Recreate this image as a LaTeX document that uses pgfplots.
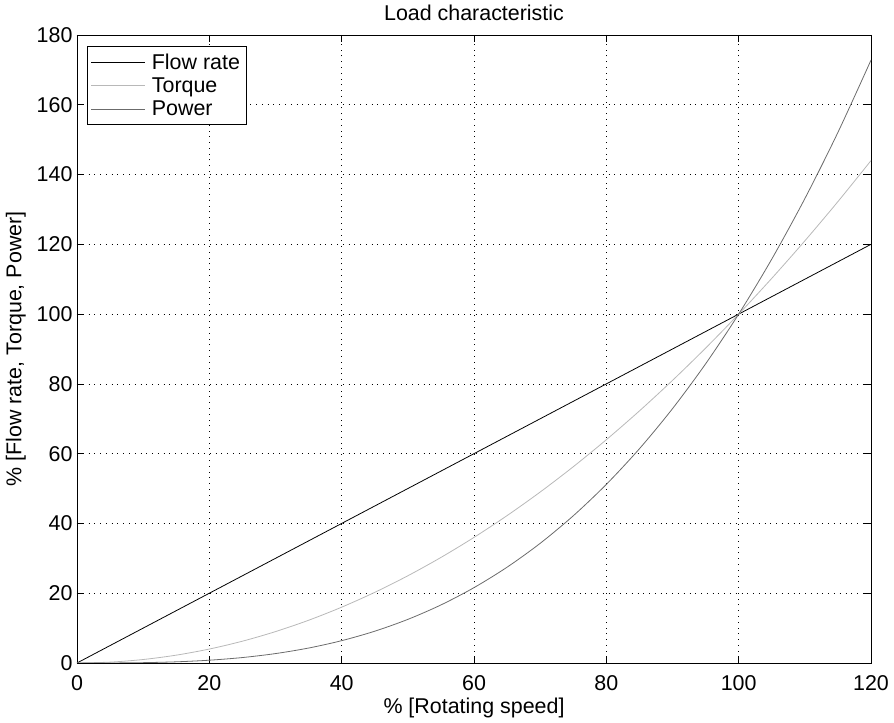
\documentclass[border=0pt]{standalone}
\usepackage{fontspec}
\setmainfont{Liberation Sans}
\usepackage{pgfplots}
\pgfplotsset{compat=1.18}
\begin{document}
\begin{tikzpicture}
\useasboundingbox (-77bp,-60bp) rectangle (817bp,663bp);
\begin{axis}[
  at={(0,0)}, anchor=south west,
  scale only axis, width=794bp, height=628bp,
  xmin=0, xmax=120, ymin=0, ymax=180,
  xtick={0,20,...,120}, ytick={0,20,...,180},
  /pgf/number format/assume math mode=true,
  tick label style={font=\fontsize{21.5}{24}\selectfont},
  xticklabel style={anchor=base, yshift=-27bp},
  yticklabel style={xshift=-1bp},
  label style={font=\fontsize{21.5}{24}\selectfont},
  title style={font=\fontsize{21.5}{24}\selectfont, yshift=5bp},
  title={Load characteristic},
  xlabel={\% [Rotating speed]},
  ylabel={\% [Flow rate, Torque, Power]},
  xlabel style={at={(axis description cs:0.5,0)}, anchor=base, yshift=-50bp},
  ylabel style={yshift=4bp},
  tick align=inside, major tick length=7bp,
  axis line style={line width=0.9pt},
  every tick/.style={black, line width=0.7pt},
  grid=major,
  major grid style={black, line width=0.6pt, dash pattern=on 0.8pt off 5pt},
  legend style={at={(0.012,0.982)}, anchor=north west, font=\fontsize{21.5}{24}\selectfont,
    draw=black, line width=0.9pt, row sep=3bp, inner xsep=4bp, inner ysep=5bp},
  legend cell align=left,
  legend image post style={line width=0.8pt},
  legend image code/.code={\draw[#1] (0.1cm,0cm) -- (2.0cm,0cm); \path (2.15cm,0cm);},
]
\addplot[black, line width=0.8pt] coordinates {(0,0) (120,120)};
\addlegendentry{Flow rate}
\addplot[black!28, line width=0.8pt, smooth] coordinates {
(0,0) (5,0.25) (10,1) (15,2.25) (20,4) (25,6.25) (30,9) (35,12.25) (40,16) (45,20.25)
(50,25) (55,30.25) (60,36) (65,42.25) (70,49) (75,56.25) (80,64) (85,72.25) (90,81)
(95,90.25) (100,100) (105,110.25) (110,121) (115,132.25) (120,144)};
\addlegendentry{Torque}
\addplot[black!58, line width=0.8pt, smooth] coordinates {
(0,0) (5,0.0125) (10,0.1) (15,0.3375) (20,0.8) (25,1.5625) (30,2.7) (35,4.2875) (40,6.4)
(45,9.1125) (50,12.5) (55,16.6375) (60,21.6) (65,27.4625) (70,34.3) (75,42.1875) (80,51.2)
(85,61.4125) (90,72.9) (95,85.7375) (100,100) (105,115.7625) (110,133.1) (115,152.0875) (120,172.8)};
\addlegendentry{Power}
\end{axis}
\end{tikzpicture}
\end{document}
